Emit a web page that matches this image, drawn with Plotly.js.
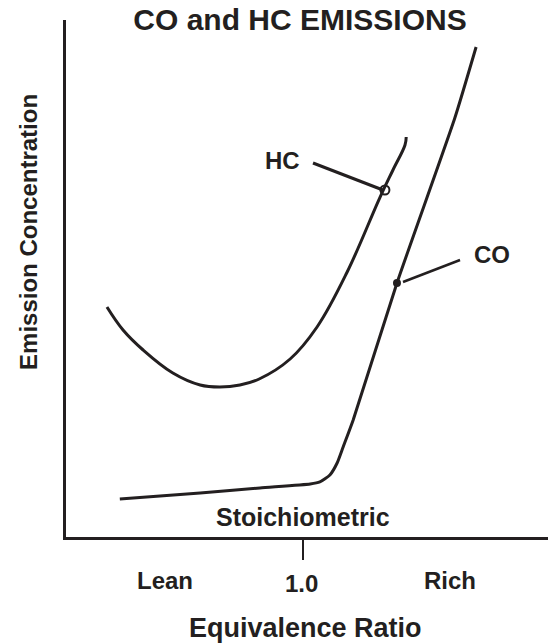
<!DOCTYPE html>
<html>
<head>
<meta charset="utf-8">
<script src="https://cdn.plot.ly/plotly-3.0.1.min.js"></script>
<style>html,body{margin:0;padding:0;background:#fff;}#chart{width:548px;height:644px;}</style>
</head>
<body>
<div id="chart"></div>
<script>
// Equivalence ratio (x) and emission concentration (arbitrary units, y)
var coPhi  = [0.544, 0.744, 0.893, 1.018, 1.042, 1.067, 1.085, 1.100, 1.125, 1.234, 1.378, 1.431];
var coConc = [7.35, 8.50, 9.50, 10.25, 10.64, 11.99, 14.31, 17.41, 22.63, 49.13, 81.04, 94.78];

var hcPhi  = [0.512, 0.552, 0.602, 0.676, 0.744, 0.793, 0.843, 0.891, 0.968, 1.035, 1.110, 1.192, 1.224, 1.254, 1.257];
var hcConc = [44.49, 40.04, 36.17, 31.72, 29.40, 29.01, 29.40, 30.56, 34.43, 40.62, 51.26, 65.76, 70.99, 75.82, 77.37];

// leader lines pointing to the curves
var hcLeaderPhi  = [1.025, 1.199];
var hcLeaderConc = [72.34, 67.12];
var hcMarkPhi = [1.204], hcMarkConc = [67.12];
var coLeaderPhi  = [1.249, 1.391];
var coLeaderConc = [49.32, 53.58];
var coMarkPhi = [1.234], coMarkConc = [49.13];

var tickVals = [1.0];
// labels under the axis (paper coordinates)
var regionLabels = ["Lean", "1.0", "Rich"];
var regionX = [0.2054, 0.4896, 0.7967];
var regionY = [-0.0832, -0.089, -0.0832];

var INK = "#231f20";
var FONT = "Liberation Sans, Arial, Helvetica, sans-serif";

var traces = [
  {x: hcPhi, y: hcConc, mode: "lines", line: {color: INK, width: 3, shape: "spline", smoothing: 1.1}, hoverinfo: "none", showlegend: false, name: "HC"},
  {x: coPhi, y: coConc, mode: "lines", line: {color: INK, width: 3, shape: "spline", smoothing: 0.5}, hoverinfo: "none", showlegend: false, name: "CO"},
  {x: hcLeaderPhi, y: hcLeaderConc, mode: "lines", line: {color: INK, width: 3}, hoverinfo: "none", showlegend: false},
  {x: hcMarkPhi, y: hcMarkConc, mode: "markers", marker: {symbol: "circle-open", size: 9, color: INK, line: {width: 2, color: INK}}, hoverinfo: "none", showlegend: false},
  {x: coLeaderPhi, y: coLeaderConc, mode: "lines", line: {color: INK, width: 2.5}, hoverinfo: "none", showlegend: false},
  {x: coMarkPhi, y: coMarkConc, mode: "markers", marker: {symbol: "circle", size: 8, color: INK}, hoverinfo: "none", showlegend: false}
];

var annotations = [
  {xref: "x", yref: "y", x: 0.9502, y: 72.92, text: "HC", font: {size: 24}},
  {xref: "x", yref: "y", x: 1.4706, y: 54.55, text: "CO", font: {size: 24}},
  {xref: "x", yref: "y", x: 1.0, y: 3.87, text: "Stoichiometric", font: {size: 25}},
  {xref: "paper", yref: "paper", x: 0.4959, y: -0.176, text: "Equivalence Ratio", font: {size: 27}},
  {xref: "paper", yref: "paper", x: -0.0768, y: 0.590, text: "Emission Concentration", font: {size: 24}, textangle: -90}
];
for (var i = 0; i < regionLabels.length; i++) {
  annotations.push({xref: "paper", yref: "paper", x: regionX[i], y: regionY[i], text: regionLabels[i], font: {size: 24}});
}
annotations.forEach(function (a) {
  a.showarrow = false;
  a.xanchor = "center"; a.yanchor = "middle";
  a.text = "<b>" + a.text + "</b>";
  a.font.family = FONT; a.font.color = INK;
});

var layout = {
  width: 548, height: 644,
  margin: {l: 66, r: 0, t: 20, b: 107, pad: 0},
  paper_bgcolor: "#ffffff", plot_bgcolor: "#ffffff",
  showlegend: false,
  title: {text: "<b>CO and HC EMISSIONS</b>", x: 300 / 548, xanchor: "center", xref: "container",
          y: 1 - 19 / 644, yanchor: "middle", yref: "container",
          font: {family: FONT, size: 30, color: INK}},
  xaxis: {range: [0.41, 1.61], showline: true, linewidth: 3, linecolor: INK, showgrid: false, zeroline: false,
          ticks: "outside", tickvals: tickVals, ticklen: 20, tickwidth: 2, tickcolor: INK, showticklabels: false, fixedrange: true},
  yaxis: {range: [0, 100], showline: true, linewidth: 3, linecolor: INK, showgrid: false, zeroline: false,
          ticks: "", showticklabels: false, fixedrange: true},
  annotations: annotations
};

Plotly.newPlot("chart", traces, layout, {staticPlot: true, displayModeBar: false});
</script>
</body>
</html>
